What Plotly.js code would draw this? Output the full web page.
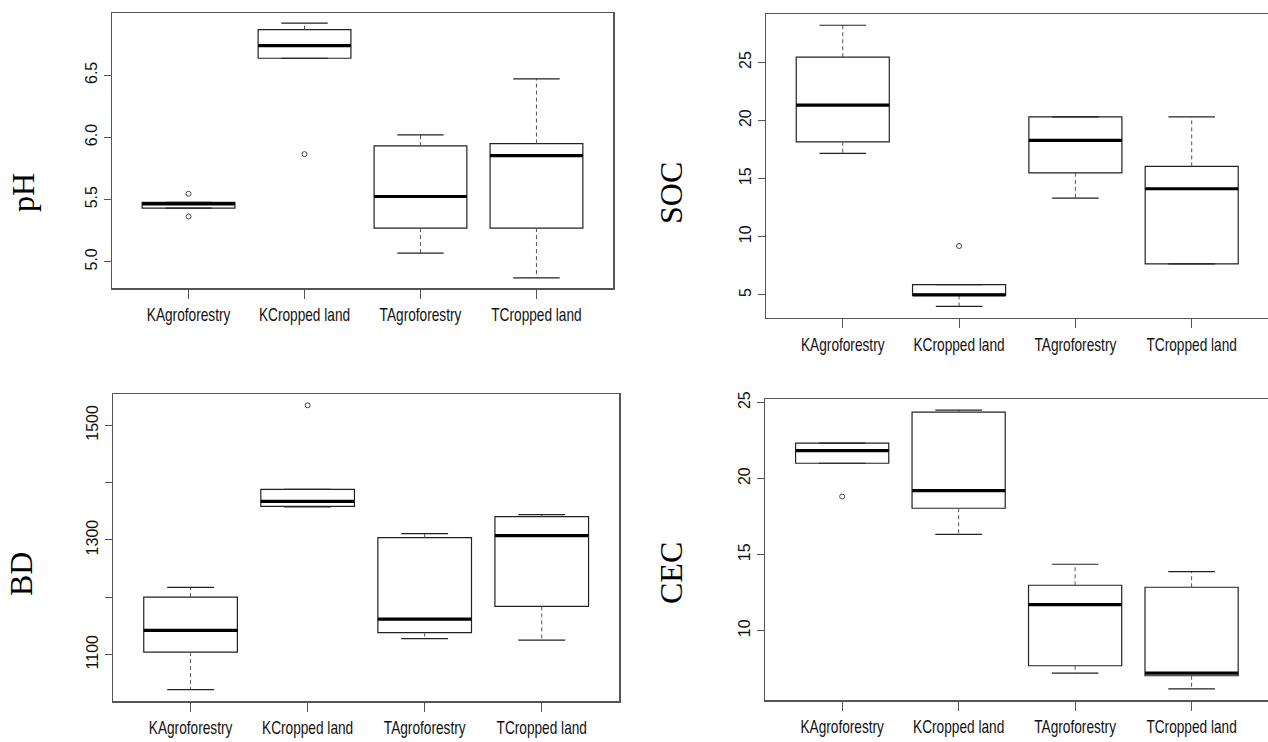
<!DOCTYPE html>
<html>
<head>
<meta charset="utf-8">
<script src="https://cdn.plot.ly/plotly-3.0.1.min.js"></script>
<style>html,body{margin:0;padding:0;background:#fff;}#chart{width:1268px;height:742px;}</style>
</head>
<body>
<div id="chart"></div>
<script>
// ---- Data ----
const categories = ["KAgroforestry", "KCropped land", "TAgroforestry", "TCropped land"];

// pH
const ph_lowWhisker = [5.432, 6.637, 5.07, 4.871];
const ph_q1         = [5.432, 6.637, 5.271, 5.271];
const ph_median     = [5.466, 6.739, 5.525, 5.854];
const ph_q3         = [5.477, 6.867, 5.932, 5.951];
const ph_upWhisker  = [5.477, 6.919, 6.021, 6.471];
const ph_outX       = [1, 1, 2];
const ph_outY       = [5.547, 5.364, 5.866];

// SOC
const soc_lowWhisker = [17.17, 4.0, 13.33, 7.66];
const soc_q1         = [18.17, 4.95, 15.5, 7.66];
const soc_median     = [21.32, 5.0, 18.29, 14.13];
const soc_q3         = [25.45, 5.88, 20.32, 16.06];
const soc_upWhisker  = [28.2, 5.88, 20.32, 20.32];
const soc_outX       = [2];
const soc_outY       = [9.2];

// BD
const bd_lowWhisker = [1039, 1357.5, 1128, 1125.5];
const bd_q1         = [1104.5, 1358.7, 1138.4, 1184.2];
const bd_median     = [1142.4, 1367.4, 1162, 1307.6];
const bd_q3         = [1200.5, 1388.3, 1304, 1340.7];
const bd_upWhisker  = [1217.4, 1388.3, 1311, 1344.2];
const bd_outX       = [2];
const bd_outY       = [1534.8];

// CEC
const cec_lowWhisker = [21.01, 16.34, 7.22, 6.18];
const cec_q1         = [21.01, 18.05, 7.70, 7.04];
const cec_median     = [21.84, 19.21, 11.71, 7.22];
const cec_q3         = [22.33, 24.37, 12.99, 12.86];
const cec_upWhisker  = [22.33, 24.5, 14.37, 13.88];
const cec_outX       = [1];
const cec_outY       = [18.82];

// y tick values / labels
const ph_ticks = [5.0, 5.5, 6.0, 6.5];
const ph_tickText = ["5.0", "5.5", "6.0", "6.5"];
const soc_ticks = [5, 10, 15, 20, 25];
const soc_tickText = ["5", "10", "15", "20", "25"];
const bd_ticks = [1100, 1200, 1300, 1400, 1500];
const bd_tickText = ["1100", "", "1300", "", "1500"];
const cec_ticks = [10, 15, 20, 25];
const cec_tickText = ["10", "15", "20", "25"];

const yTitles = ["pH", "SOC", "BD", "CEC"];

// ---- Build ----
const xpos = categories.map((c, i) => i + 1);
const panels = [
  {lw: ph_lowWhisker, q1: ph_q1, med: ph_median, q3: ph_q3, uw: ph_upWhisker, ox: ph_outX, oy: ph_outY, xa: "x", ya: "y"},
  {lw: soc_lowWhisker, q1: soc_q1, med: soc_median, q3: soc_q3, uw: soc_upWhisker, ox: soc_outX, oy: soc_outY, xa: "x2", ya: "y2"},
  {lw: bd_lowWhisker, q1: bd_q1, med: bd_median, q3: bd_q3, uw: bd_upWhisker, ox: bd_outX, oy: bd_outY, xa: "x3", ya: "y3"},
  {lw: cec_lowWhisker, q1: cec_q1, med: cec_median, q3: cec_q3, uw: cec_upWhisker, ox: cec_outX, oy: cec_outY, xa: "x4", ya: "y4"}
];

const traces = [];
panels.forEach(p => {
  traces.push({
    type: "box", x: xpos, q1: p.q1, median: p.med, q3: p.q3,
    lowerfence: p.q1, upperfence: p.q3,
    width: 0.8, whiskerwidth: 0, boxpoints: false,
    fillcolor: "#ffffff", line: {color: "#222", width: 1.2},
    xaxis: p.xa, yaxis: p.ya, showlegend: false, hoverinfo: "skip"
  });
  // whiskers (dashed)
  const wx = [], wy = [];
  xpos.forEach((x, i) => {
    wx.push(x, x, null, x, x, null);
    wy.push(p.q3[i], p.uw[i], null, p.q1[i], p.lw[i], null);
  });
  traces.push({type: "scatter", mode: "lines", x: wx, y: wy,
    line: {color: "#555", width: 1, dash: "4px,3px"},
    xaxis: p.xa, yaxis: p.ya, showlegend: false, hoverinfo: "skip"});
  // staples
  const sx = [], sy = [];
  xpos.forEach((x, i) => {
    sx.push(x - 0.2, x + 0.2, null, x - 0.2, x + 0.2, null);
    sy.push(p.uw[i], p.uw[i], null, p.lw[i], p.lw[i], null);
  });
  traces.push({type: "scatter", mode: "lines", x: sx, y: sy,
    line: {color: "#222", width: 1.2},
    xaxis: p.xa, yaxis: p.ya, showlegend: false, hoverinfo: "skip"});
  // medians
  const mx = [], my = [];
  xpos.forEach((x, i) => {
    mx.push(x - 0.4, x + 0.4, null);
    my.push(p.med[i], p.med[i], null);
  });
  traces.push({type: "scatter", mode: "lines", x: mx, y: my,
    line: {color: "#000", width: 3.2},
    xaxis: p.xa, yaxis: p.ya, showlegend: false, hoverinfo: "skip"});
  // outliers
  traces.push({type: "scatter", mode: "markers", x: p.ox, y: p.oy,
    marker: {symbol: "circle-open", size: 5, color: "#444", line: {width: 1, color: "#444"}},
    xaxis: p.xa, yaxis: p.ya, showlegend: false, hoverinfo: "skip"});
});

function yRange(p) {
  const lo = Math.min(...p.lw, ...p.oy);
  const hi = Math.max(...p.uw, ...p.oy);
  const d = hi - lo;
  return [lo - 0.04 * d, hi + 0.04 * d];
}

const W = 1268, H = 742;
const tickFont = {family: "Liberation Sans, Arial, sans-serif", size: 16, color: "#111"};
const catFont = {family: "Liberation Sans, Arial, sans-serif", size: 18, color: "#111"};

function xAxis(dom, anchor, range, mirror) {
  return {
    domain: dom, anchor: anchor, range: range,
    tickmode: "array", tickvals: xpos, ticktext: categories, tickangle: 0,
    ticks: "outside", ticklen: 9, tickcolor: "#555", tickwidth: 1,
    ticklabelstandoff: 1,
    showline: true, linecolor: "#555", linewidth: 1.5, mirror: mirror,
    showgrid: false, zeroline: false, tickfont: catFont, fixedrange: true
  };
}
function yAxis(dom, anchor, range, tv, tt, mirror) {
  return {
    domain: dom, anchor: anchor, range: range,
    tickmode: "array", tickvals: tv, ticktext: tt, tickangle: -90,
    ticks: "outside", ticklen: 7, tickcolor: "#555", tickwidth: 1,
    showline: true, linecolor: "#555", linewidth: 1.5, mirror: mirror,
    showgrid: false, zeroline: false, tickfont: tickFont, fixedrange: true
  };
}

const layout = {
  width: W, height: H,
  margin: {l: 0, r: 0, t: 0, b: 0},
  paper_bgcolor: "#fff", plot_bgcolor: "#fff",
  showlegend: false,
  xaxis:  xAxis([112 / W, 613 / W], "y", [0.34, 4.66], true),
  yaxis:  yAxis([1 - 288 / H, 1 - 13 / H], "x", yRange(panels[0]), ph_ticks, ph_tickText, true),
  xaxis2: xAxis([766 / W, 1], "y2", [0.34, 4.656], true),
  yaxis2: yAxis([1 - 317.7 / H, 1 - 14 / H], "x2", yRange(panels[1]), soc_ticks, soc_tickText, false),
  xaxis3: xAxis([113.3 / W, 619 / W], "y3", [0.34, 4.66], true),
  yaxis3: yAxis([1 - 701 / H, 1 - 394 / H], "x3", yRange(panels[2]), bd_ticks, bd_tickText, true),
  xaxis4: xAxis([765.3 / W, 1], "y4", [0.34, 4.656], true),
  yaxis4: yAxis([1 - 700 / H, 1 - 399 / H], "x4", yRange(panels[3]), cec_ticks, cec_tickText, false),
  annotations: [
    {text: yTitles[0], x: 23 / W, y: 1 - 193 / H},
    {text: yTitles[1], x: 671 / W, y: 1 - 193 / H},
    {text: yTitles[2], x: 21 / W, y: 1 - 574 / H},
    {text: yTitles[3], x: 671 / W, y: 1 - 573 / H}
  ].map(a => Object.assign(a, {
    xref: "paper", yref: "paper", xanchor: "center", yanchor: "middle",
    showarrow: false, textangle: -90,
    font: {family: "Liberation Serif, Times New Roman, serif", size: 32, color: "#000"}
  }))
};

Plotly.newPlot("chart", traces, layout, {staticPlot: true, displayModeBar: false}).then(() => {
  // condense the category labels horizontally (narrow sans look)
  document.querySelectorAll("#chart .xtick text, #chart .x2tick text, #chart .x3tick text, #chart .x4tick text").forEach(t => {
    const x = parseFloat(t.getAttribute("x")) || 0;
    const prev = t.getAttribute("transform") || "";
    t.setAttribute("transform", prev + " translate(" + x + " 0) scale(0.76 1) translate(" + (-x) + " 0)");
  });
});
</script>
</body>
</html>
